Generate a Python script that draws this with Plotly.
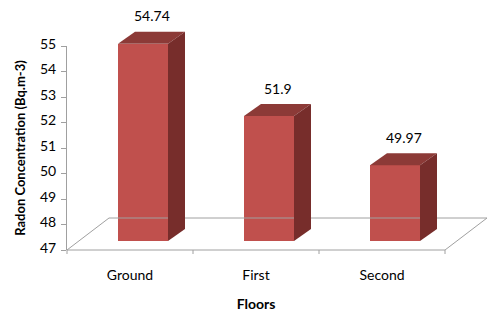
import plotly.graph_objects as go

# ---------------- data ----------------
categories = ["Ground", "First", "Second"]
radon = [54.74, 51.9, 49.97]
value_labels = ["54.74", "51.9", "49.97"]
y_ticks = [47, 48, 49, 50, 51, 52, 53, 54, 55]
y_title = "Radon Concentration (Bq.m-3)"
x_title = "Floors"

# ---------------- geometry / style ----------------
# the page body has an 8px default margin, so the figure is drawn 8px smaller
# and all pixel positions are measured relative to that offset
OFF = 8
W, H = 500 - OFF, 320 - OFF
Y_MIN, Y_MAX = 47, 55
PLOT_L, PLOT_R, PLOT_T, PLOT_B = 67 - OFF, 445 - OFF, 46 - OFF, 250 - OFF
n = len(categories)
PX_X = (PLOT_R - PLOT_L) / n                 # pixels per category unit
PX_Y = (PLOT_B - PLOT_T) / (Y_MAX - Y_MIN)   # pixels per value unit

FLOOR_DX, FLOOR_DY = 42 / PX_X, 32 / PX_Y       # depth of the floor
BAR_SHIFT_X, BAR_SHIFT_Y = 13 / PX_X, 9 / PX_Y  # bar front plane offset
BAR_W = 50 / PX_X
SIDE_DX, SIDE_DY = 17 / PX_X, 12 / PX_Y         # bar depth
TICK_LEN = 4 / PX_Y

FRONT = "#C0504D"
TOP = "#8C3A37"
SIDE = "#772D2B"
LINE = "#A0A0A0"
FONT = "Lato, 'Liberation Sans', sans-serif"

x2_range = [-0.5 - PLOT_L / PX_X, -0.5 + (W - PLOT_L) / PX_X]
y2_range = [Y_MIN - (H - PLOT_B) / PX_Y, Y_MAX + PLOT_T / PX_Y]

fig = go.Figure()

# empty trace so the visible axis subplot exists
fig.add_trace(go.Scatter(x=[None], y=[None], xaxis="x", yaxis="y",
                         showlegend=False, hoverinfo="skip"))

# floor outline + category boundary tick marks
x_left, x_right = -0.5, n - 0.5
fx = [x_left, x_left + FLOOR_DX, x_right + FLOOR_DX, x_right, x_left, None]
fy = [Y_MIN, Y_MIN + FLOOR_DY, Y_MIN + FLOOR_DY, Y_MIN, Y_MIN, None]
for k in range(n + 1):
    b = -0.5 + k
    fx += [b, b, None]
    fy += [Y_MIN, Y_MIN - TICK_LEN, None]
fig.add_trace(go.Scatter(x=fx, y=fy, mode="lines", xaxis="x2", yaxis="y2",
                         line=dict(color=LINE, width=1),
                         showlegend=False, hoverinfo="skip"))

base = Y_MIN + BAR_SHIFT_Y
centers = [i + BAR_SHIFT_X for i in range(n)]

# front faces
fig.add_trace(go.Bar(x=centers, y=[v - Y_MIN for v in radon], base=base,
                     width=BAR_W, marker=dict(color=FRONT, line=dict(width=0)),
                     xaxis="x2", yaxis="y2", showlegend=False,
                     customdata=categories, hovertemplate="%{customdata}<extra></extra>"))

# top and side faces + value labels
for i, v in enumerate(radon):
    x0 = centers[i] - BAR_W / 2
    x1 = centers[i] + BAR_W / 2
    top = base + (v - Y_MIN)
    fig.add_trace(go.Scatter(
        x=[x0, x1, x1 + SIDE_DX, x0 + SIDE_DX, x0],
        y=[top, top, top + SIDE_DY, top + SIDE_DY, top],
        fill="toself", fillcolor=TOP, mode="lines", line=dict(width=0, color=TOP),
        xaxis="x2", yaxis="y2", showlegend=False, hoverinfo="skip"))
    fig.add_trace(go.Scatter(
        x=[x1, x1, x1 + SIDE_DX, x1 + SIDE_DX, x1],
        y=[base, top, top + SIDE_DY, base + SIDE_DY, base],
        fill="toself", fillcolor=SIDE, mode="lines", line=dict(width=0, color=SIDE),
        xaxis="x2", yaxis="y2", showlegend=False, hoverinfo="skip"))
    fig.add_annotation(x=i, y=top + SIDE_DY, xref="x2", yref="y2",
                       text=value_labels[i], showarrow=False,
                       xshift=22, yshift=16, yanchor="middle",
                       font=dict(family=FONT, size=14, color="#000000"))

fig.update_layout(
    width=W, height=H,
    margin=dict(l=0, r=0, t=0, b=0, autoexpand=False),
    paper_bgcolor="white", plot_bgcolor="rgba(0,0,0,0)",
    showlegend=False,
    bargap=0,
    xaxis=dict(domain=[PLOT_L / W, PLOT_R / W], range=[-0.5, n - 0.5],
               type="linear", anchor="y", automargin=False,
               tickvals=list(range(n)), ticktext=categories,
               ticks="", showline=False, showgrid=False, zeroline=False,
               ticklabelstandoff=15,
               tickfont=dict(family=FONT, size=14, color="#000000"),
               title=dict(text="<b>" + x_title + "</b>", standoff=17,
                          font=dict(family=FONT, size=14, color="#000000"))),
    yaxis=dict(domain=[(H - PLOT_B) / H, (H - PLOT_T) / H], range=[Y_MIN, Y_MAX],
               type="linear", anchor="x", automargin=False,
               tickvals=y_ticks, ticks="outside", ticklen=5, tickcolor=LINE,
               showline=True, linecolor=LINE, linewidth=1,
               showgrid=False, zeroline=False,
               ticklabelstandoff=2, ticklabelshift=-2,
               tickfont=dict(family=FONT, size=14, color="#000000"),
               title=dict(text="<b>" + y_title + "</b>", standoff=11,
                          font=dict(family=FONT, size=13, color="#000000"))),
    xaxis2=dict(domain=[0, 1], range=x2_range, anchor="y2", visible=False),
    yaxis2=dict(domain=[0, 1], range=y2_range, anchor="x2", visible=False),
)

fig.write_html("out.html")
